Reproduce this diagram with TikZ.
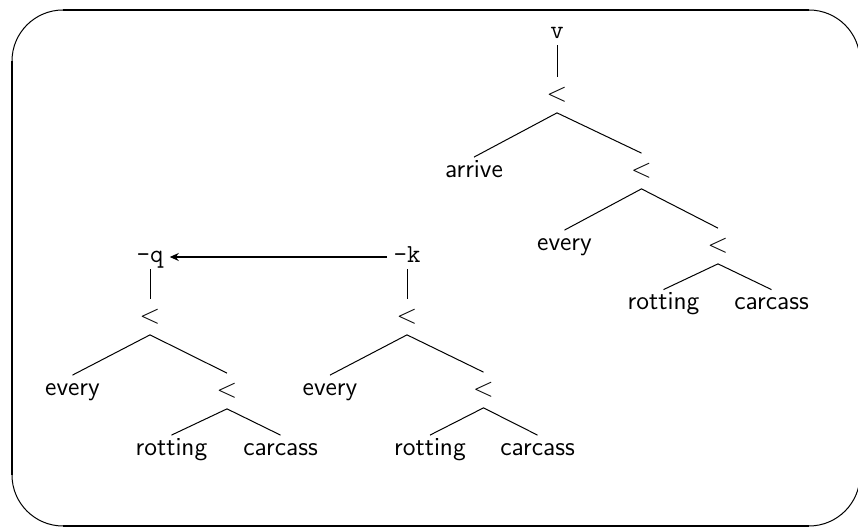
\RequirePackage{fix-cm}
\documentclass[tikz,border=0pt]{standalone}
\usepackage{amsmath}
\usetikzlibrary{arrows.meta}
\tikzset{
  treeframe/.style={line width=0.5pt,rounded corners=25.5pt},
  treeside/.style={line width=1pt},
  treeop/.style={font=\fontsize{13.5}{16}\selectfont,inner sep=5pt},
  treeword/.style={font=\fontsize{13}{15}\selectfont\sffamily,text height=.7em,text depth=.2em,inner sep=3pt},
  treevar/.style={font=\fontsize{13}{15}\selectfont\ttfamily,text height=.6em,text depth=0pt,inner sep=3pt},
  treeedge/.style={line width=0.5pt},
  treemove/.style={-{Stealth[length=4.5pt,width=4pt]},line width=1pt},
  every picture/.style={font=\fontsize{13}{15}\selectfont}
}

\begin{document}
\begin{tikzpicture}[x=0.5pt,y=-0.5pt]
  \useasboundingbox (0,0) rectangle (858,529);
  % frame, cut off on the right
  \draw[treeframe] (12,10) rectangle (860,526);
  \draw[treeside] (63,10)--(809,10) (12,61)--(12,475) (63,526)--(809,526);

  % v tree
  \node[treevar] (v) at (557,33) {v};
  \node[treeop] (lt1) at (557,95) {$<$};
  \node[treeword] (arrive) at (474,172.5) {arrive};
  \node[treeop] (lt2) at (641.5,171) {$<$};
  \node[treeword] (every1) at (564.5,245.5) {every};
  \node[treeop] (lt3) at (718,246) {$<$};
  \node[treeword] (rotting1) at (663.5,305) {rotting};
  \node[treeword] (carcass1) at (771.5,305) {carcass};
  \draw[treeedge] (v.south)--(lt1.north);
  \draw[treeedge] (lt1.south)--(arrive.north) (lt1.south)--(lt2.north);
  \draw[treeedge] (lt2.south)--(every1.north) (lt2.south)--(lt3.north);
  \draw[treeedge] (lt3.south)--(rotting1.north) (lt3.south)--(carcass1.north);

  % -q tree
  \node[treevar] (q) at (150,257) {-q};
  \node[treeop] (lt4) at (150,317) {$<$};
  \node[treeword] (every2) at (72.5,390.5) {every};
  \node[treeop] (lt5) at (227,391) {$<$};
  \node[treeword] (rotting2) at (171.5,450.5) {rotting};
  \node[treeword] (carcass2) at (280.5,450.5) {carcass};
  \draw[treeedge] (q.south)--(lt4.north);
  \draw[treeedge] (lt4.south)--(every2.north) (lt4.south)--(lt5.north);
  \draw[treeedge] (lt5.south)--(rotting2.north) (lt5.south)--(carcass2.north);

  % -k tree
  \node[treevar] (k) at (407,257) {-k};
  \node[treeop] (lt6) at (407,317) {$<$};
  \node[treeword] (every3) at (330,390.5) {every};
  \node[treeop] (lt7) at (483.5,390) {$<$};
  \node[treeword] (rotting3) at (430,450.5) {rotting};
  \node[treeword] (carcass3) at (537.5,450.5) {carcass};
  \draw[treeedge] (k.south)--(lt6.north);
  \draw[treeedge] (lt6.south)--(every3.north) (lt6.south)--(lt7.north);
  \draw[treeedge] (lt7.south)--(rotting3.north) (lt7.south)--(carcass3.north);

  \draw[treemove] (k)--(q);
\end{tikzpicture}
\end{document}
